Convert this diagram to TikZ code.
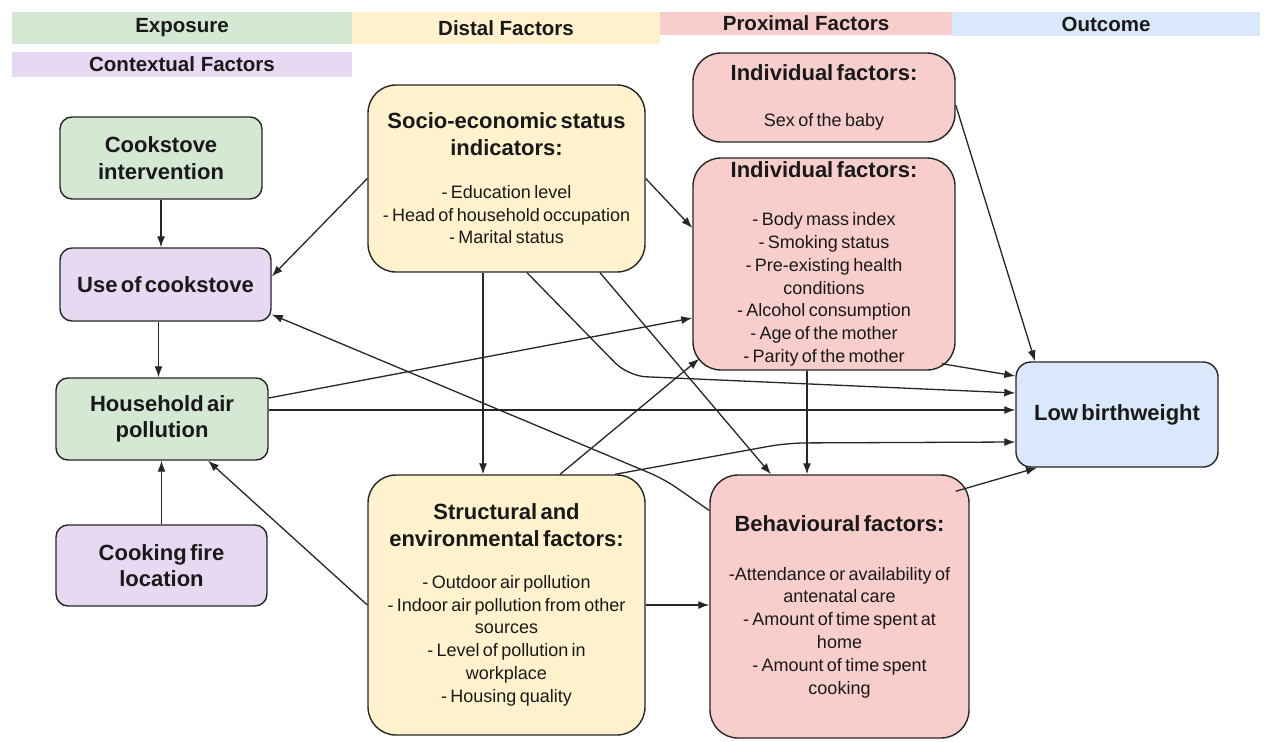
\documentclass[tikz,border=0pt]{standalone}
\usepackage{fontspec}
\setmainfont{Liberation Sans}
\usetikzlibrary{arrows.meta}

\definecolor{expgreen}{HTML}{D5E8D4}
\definecolor{ctxpurple}{HTML}{E7D9F2}
\definecolor{distyellow}{HTML}{FFF2CC}
\definecolor{proxpink}{HTML}{F8CECC}
\definecolor{outblue}{HTML}{DAE8FC}
\definecolor{linegray}{HTML}{262626}

\newcommand\boxtitle{\fontsize{22}{26.5}\selectfont\bfseries}
\newcommand\boxitems{\fontsize{18}{22.8}\selectfont\mdseries}
\newcommand\boxgap[1][21pt]{\par\vspace{#1}\noindent}

\tikzset{
  header/.style={fill=#1, inner sep=0pt, font=\fontsize{20.5}{24}\selectfont\bfseries, text=black!90},
  factor/.style={draw=linegray, line width=1.4pt, fill=#1, rounded corners=12pt, align=center, inner sep=0pt, text=black!90},
  bigfactor/.style={factor=#1, rounded corners=28pt},
  arr/.style={-{Latex[length=11pt,width=8pt]}, line width=1.3pt, draw=linegray},
}

\begin{document}
\begin{tikzpicture}[x=1pt,y=-1pt]

\path[fill=white] (0,0) rectangle (1273,741);
\useasboundingbox (0,0) rectangle (1273,741);

\node[header=expgreen, minimum width=340, minimum height=32] (hexp) at (182,28) {Exposure};
\node[header=distyellow, minimum width=308, minimum height=32] (hdist) at (506,28) {Distal Factors};
\node[header=proxpink, minimum width=292, minimum height=23] (hprox) at (806,23.5) {Proximal Factors};
\node[header=outblue, minimum width=308, minimum height=24] (hout) at (1106,24) {Outcome};
\node[header=ctxpurple, minimum width=340, minimum height=25] (hctx) at (182,64.5) {Contextual Factors};

\node[factor=expgreen, minimum width=202, minimum height=82, text width=196pt] (ci) at (161,158) {\boxtitle Cookstove\\intervention\par};
\node[factor=ctxpurple, minimum width=211, minimum height=73, text width=205pt] (uoc) at (165.5,284.5) {\boxtitle Use of cookstove\par};
\node[factor=expgreen, minimum width=212, minimum height=82, text width=206pt] (hap) at (162,419) {\boxtitle Household air\\pollution\par};
\node[factor=ctxpurple, minimum width=211, minimum height=81, text width=205pt] (cfl) at (161.5,565.5) {\boxtitle Cooking fire\\location\par};

\node[bigfactor=distyellow, minimum width=277, minimum height=187, text width=271pt] (seso) at (506.5,178.5) {\boxtitle Socio-economic status\\indicators:\boxgap[20pt]\boxitems - Education level\\- Head of household occupation\\- Marital status\par};
\node[bigfactor=distyellow, minimum width=277, minimum height=260, text width=271pt] (sef) at (506.5,605) {\boxtitle Structural and\\environmental factors:\boxgap[19pt]\boxitems - Outdoor air pollution\\- Indoor air pollution from other\\sources\\- Level of pollution in\\workplace\\- Housing quality\par};

\node[bigfactor=proxpink, minimum width=262, minimum height=89, text width=256pt] (sex) at (824,97.5) {\boxtitle Individual factors:\boxgap[23pt]\boxitems Sex of the baby\par};
\node[bigfactor=proxpink, minimum width=262, minimum height=212, text width=256pt] (ind) at (824,264) {\boxtitle Individual factors:\boxgap[25pt]\boxitems - Body mass index\\- Smoking status\\- Pre-existing health\\conditions\\- Alcohol consumption\\- Age of the mother\\- Parity of the mother\par};
\node[bigfactor=proxpink, minimum width=259, minimum height=263, text width=253pt] (beh) at (839.5,606.5) {\boxtitle Behavioural factors:\boxgap[26pt]\boxitems -Attendance or availability of\\antenatal care\\- Amount of time spent at\\home\\- Amount of time spent\\cooking\par};

\node[factor=outblue, rounded corners=15pt, minimum width=202, minimum height=105, text width=196pt] (lbw) at (1117,414.5) {\boxtitle Low birthweight\par};

\draw[arr] (ci.south) -- (ci.south |- uoc.north);
\draw[arr] ([xshift=-7pt]uoc.south) -- ([xshift=-7pt]uoc.south |- hap.north);
\draw[arr] (cfl.north) -- (cfl.north |- hap.south);
\draw[arr] (seso.west) -- ([yshift=8pt]uoc.east);
\draw[arr] (seso.east) -- ([yshift=36pt]ind.west);
\draw[arr] ([xshift=-23.5pt]seso.south) -- ([xshift=-23.5pt]sef.north);
\draw[arr, rounded corners=18pt] ([xshift=20.5pt]seso.south) -- (628,376) -- ([yshift=21.5pt]lbw.west);
\draw[arr] ([xshift=93.5pt]seso.south) -- ([xshift=-68.5pt]beh.north);
\draw[arr] ([yshift=21pt]hap.east) -- ([yshift=-54pt]ind.west);
\draw[arr] ([yshift=9pt]hap.east) -- ([yshift=4.5pt]lbw.west);
\draw[arr, rounded corners=15pt] ([yshift=96pt]beh.west) -- (664,479) -- ([yshift=-30pt]uoc.east);
\draw[arr] ([xshift=53.5pt]sef.north) -- ([xshift=7pt,yshift=12pt]ind.south west);
\draw[arr, rounded corners=18pt] ([xshift=108.5pt]sef.north) -- (787,443) -- ([yshift=-27.5pt]lbw.west);
\draw[arr] (sef.west) -- ([xshift=46pt]hap.south);
\draw[arr] (sef.east) -- (sef.east -| beh.west);
\draw[arr] ([xshift=-17pt]ind.south) -- ([xshift=-17pt]ind.south |- beh.north);
\draw[arr] ([xshift=-14pt,yshift=7pt]ind.south east) -- ([yshift=38.5pt]lbw.west);
\draw[arr] ([yshift=-7.5pt]sex.east) -- ([xshift=-82pt]lbw.north);
\draw[arr] ([xshift=-14pt,yshift=-17pt]beh.north east) -- ([xshift=-80pt]lbw.south);

\end{tikzpicture}
\end{document}
